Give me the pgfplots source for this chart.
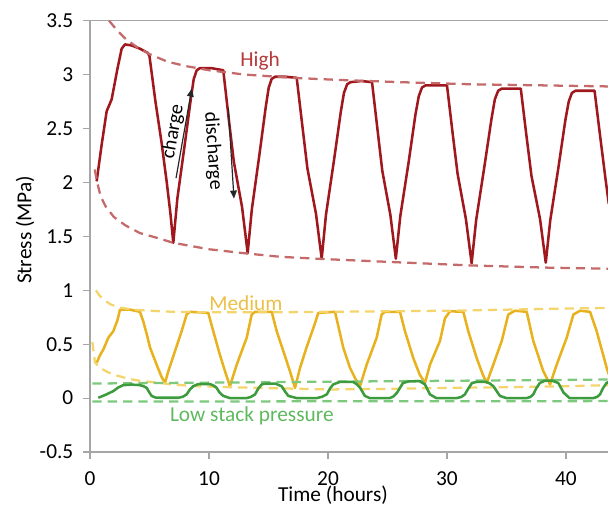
\documentclass[border=0pt]{standalone}
\usepackage{fontspec}
\setmainfont{Carlito}
\usepackage{pgfplots}
\pgfplotsset{compat=1.18}
\usetikzlibrary{arrows.meta}
\definecolor{axgray}{HTML}{A6A6A6}
\definecolor{hired}{HTML}{A0181E}
\definecolor{hidash}{HTML}{C46A6A}
\definecolor{hitext}{HTML}{B43A3C}
\definecolor{medgold}{HTML}{E8B21E}
\definecolor{meddash}{HTML}{F3D56C}
\definecolor{medtext}{HTML}{EBC046}
\definecolor{lowgreen}{HTML}{3C9B3C}
\definecolor{lowdash}{HTML}{7CC87C}
\definecolor{lowtext}{HTML}{5FB95F}
\tikzset{
  curve/.style={line width=1.9pt,line join=round},
  env/.style={line width=1.7pt,dash pattern=on 7pt off 4.5pt},
}
\begin{document}
\begin{tikzpicture}
\begin{axis}[
  scale only axis, width=388.5pt, height=323.5pt,
  xmin=0, xmax=43.53, ymin=-0.5, ymax=3.5,
  axis x line=box, axis y line=left,
  axis line style={draw=axgray, line width=0.8pt, -},
  xtick pos=bottom, ytick pos=left, tick align=outside,
  major tick length=5pt,
  tick style={draw=axgray, line width=0.8pt},
  xtick={0,10,20,30,40}, xticklabels={0,10,20,30,40},
  ytick={-0.5,0,0.5,1,1.5,2,2.5,3,3.5},
  yticklabels={-0.5,0,0.5,1,1.5,2,2.5,3,3.5},
  tick label style={font=\fontsize{16}{19}\selectfont},
  yticklabel style={xshift=-4pt},
  xticklabel style={yshift=-6pt},
]
% high stack pressure
\addplot[curve, hired] coordinates {
(0.56,2.01) (0.98,2.35) (1.4,2.66) (1.82,2.77) (2.3,3.05) (2.66,3.24) (2.94,3.28) (3.5,3.27) (4.2,3.24) (4.87,3.20)
(5.0,3.17) (5.5,2.75) (6.0,2.38) (6.44,2.01) (6.75,1.72) (7.0,1.44)
(7.34,1.85) (7.96,2.35) (8.48,2.78) (8.72,2.96) (8.97,3.04) (9.24,3.06) (10.2,3.06) (11.2,3.04)
(11.67,2.58) (12.09,2.19) (12.78,1.77) (13.25,1.345)
(13.6,1.75) (14.24,2.26) (14.77,2.70) (15.02,2.88) (15.27,2.96) (15.55,2.98) (16.4,2.98) (17.37,2.97)
(17.85,2.52) (18.27,2.13) (18.99,1.71) (19.47,1.293)
(19.83,1.70) (20.51,2.21) (21.07,2.65) (21.34,2.83) (21.61,2.91) (21.9,2.93) (22.8,2.94) (23.7,2.93)
(24.16,2.49) (24.56,2.11) (25.24,1.70) (25.7,1.293)
(26.08,1.69) (26.78,2.19) (27.35,2.63) (27.63,2.80) (27.9,2.88) (28.2,2.90) (29.1,2.90) (30.0,2.90)
(30.48,2.45) (30.89,2.08) (31.59,1.66) (32.07,1.25)
(32.45,1.65) (33.16,2.16) (33.74,2.59) (34.02,2.77) (34.3,2.85) (34.6,2.87) (35.4,2.87) (36.2,2.87)
(36.68,2.43) (37.1,2.06) (37.82,1.66) (38.3,1.256)
(38.68,1.65) (39.38,2.15) (39.95,2.58) (40.23,2.75) (40.5,2.83) (40.8,2.85) (41.6,2.85) (42.4,2.85)
(42.88,2.42) (43.3,2.05) (43.6,1.80)
};
\addplot[env, hidash] coordinates {
(1.6,3.5) (2.2,3.42) (3.0,3.33) (4.0,3.25) (5.0,3.19) (6.5,3.12) (8,3.08) (10,3.04) (13,3.00)
(17,2.97) (21,2.95) (26,2.93) (32,2.91) (38,2.90) (43.6,2.89)
};
\addplot[env, hidash] coordinates {
(0.4,2.12) (0.6,2.0) (0.9,1.87) (1.3,1.78) (2.0,1.68) (3.0,1.6) (4.2,1.53) (5.5,1.49) (7,1.44)
(10,1.38) (13.25,1.34) (16,1.31) (19.5,1.29) (25.7,1.26) (32,1.23) (38.3,1.21) (43.6,1.20)
};
% medium stack pressure
\addplot[curve, medgold] coordinates {
(0.56,0.327) (0.85,0.40) (1.12,0.45) (1.54,0.56) (1.96,0.62) (2.3,0.72) (2.52,0.82) (3.36,0.82) (4.2,0.80)
(4.48,0.71) (4.8,0.58) (5.04,0.47) (5.6,0.31) (6.0,0.20) (6.3,0.14)
(6.58,0.25) (7.14,0.435) (7.7,0.62) (8.12,0.775) (8.4,0.80) (9.94,0.79) (10.36,0.62) (10.92,0.40) (11.4,0.23) (11.76,0.11)
(12.33,0.31) (13.17,0.56) (13.59,0.775) (13.87,0.80) (15.27,0.80) (15.69,0.62) (16.25,0.435) (16.8,0.25) (17.23,0.095)
(17.65,0.28) (18.2,0.47) (18.77,0.65) (19.19,0.79) (20.59,0.80) (21.29,0.465) (21.85,0.28) (22.3,0.18) (22.69,0.11)
(23.25,0.31) (24.09,0.56) (24.51,0.775) (24.79,0.80) (26.05,0.80) (26.47,0.62) (27.17,0.37) (27.7,0.22) (28.15,0.14)
(28.57,0.31) (29.41,0.53) (29.83,0.74) (30.25,0.805) (31.37,0.80) (31.79,0.62) (32.5,0.37) (33.0,0.22) (33.34,0.14)
(33.89,0.31) (34.6,0.53) (35.15,0.775) (35.71,0.81) (36.7,0.80) (37.25,0.53) (38.09,0.25) (38.66,0.127)
(39.22,0.31) (40.06,0.56) (40.62,0.775) (41.18,0.81) (42.02,0.80) (42.58,0.62) (43.42,0.28) (43.6,0.22)
};
\addplot[env, meddash] coordinates {
(0.5,1.0) (0.8,0.95) (1.2,0.91) (1.7,0.87) (2.5,0.84) (3.6,0.82) (5,0.81) (7,0.80) (10,0.795)
(15,0.795) (20,0.80) (25,0.805) (30,0.81) (35,0.82) (40,0.83) (43.6,0.836)
};
\addplot[env, meddash] coordinates {
(0.2,0.52) (0.42,0.33) (0.84,0.28) (1.5,0.24) (2.24,0.21) (3.2,0.18) (4.2,0.16) (5.5,0.145) (7,0.125)
(9,0.11) (12,0.10) (16,0.09) (20,0.08) (25,0.085) (30,0.095) (35,0.10) (40,0.11) (43.6,0.12)
};
% low stack pressure
\addplot[env, lowdash] coordinates {(0.2,0.135) (43.6,0.172)};
\addplot[env, lowdash] coordinates {(0.2,-0.032) (43.6,-0.028)};
\addplot[curve, lowgreen] coordinates {
(0.7,0.003) (1.3,0.03) (1.96,0.065) (2.4,0.10) (2.8,0.12) (3.5,0.125) (4.2,0.12) (4.5,0.11) (4.76,0.095)
(5.0,0.05) (5.18,0.02) (5.5,0.005) (5.88,0.003) (7.42,0.003) (7.8,0.012) (8.12,0.034) (8.4,0.08) (8.68,0.11)
(9.1,0.13) (10.08,0.13) (10.4,0.115) (10.64,0.095) (10.9,0.05) (11.2,0.02) (11.76,0) (13.17,0) (13.5,0.01)
(13.87,0.034) (14.15,0.09) (14.43,0.127) (14.8,0.135) (15.55,0.135) (16.1,0.11) (16.4,0.06) (16.67,0.02)
(17.37,0) (19.05,0) (19.5,0.012) (19.9,0.034) (20.2,0.095) (20.45,0.127) (21.0,0.15) (22.1,0.15) (22.4,0.13)
(22.7,0.095) (23.1,0.02) (23.5,0) (25.2,0) (25.5,0.015) (25.8,0.05) (26.3,0.14) (26.8,0.155) (27.7,0.157)
(28.15,0.127) (28.57,0.034) (29.1,0) (30.8,0) (31.2,0.01) (31.5,0.034) (31.8,0.09) (32.1,0.14) (32.5,0.15)
(33.3,0.15) (33.6,0.135) (33.9,0.11) (34.2,0.06) (34.45,0.02) (35.0,0) (36.7,0) (37.0,0.01) (37.25,0.034)
(37.5,0.09) (37.8,0.14) (38.2,0.16) (38.8,0.163) (39.35,0.14) (39.6,0.09) (39.8,0.05) (40.3,0) (42.3,0)
(42.6,0.01) (42.86,0.034) (43.1,0.09) (43.4,0.14) (43.6,0.15)
};
% annotations
\node[font=\fontsize{16}{19}\selectfont, text=hitext] at (axis cs:14.3,3.13) {High};
\node[font=\fontsize{16}{19}\selectfont, text=medtext] at (axis cs:13.1,0.88) {Medium};
\node[font=\fontsize{16}{19}\selectfont, text=lowtext] at (axis cs:13.6,-0.167) {Low stack pressure};
\draw[black!85, line width=0.9pt, -{Triangle[length=6pt,width=5pt]}] (axis cs:7.23,2.04) -- (axis cs:8.55,2.87);
\node[font=\fontsize{15}{18}\selectfont, rotate=80, inner sep=0pt] at (axis cs:7.0,2.47) {charge};
\draw[black!85, line width=0.9pt, -{Triangle[length=6pt,width=5pt]}] (axis cs:11.62,2.69) -- (axis cs:12.1,1.85);
\node[font=\fontsize{15}{18}\selectfont, rotate=-86, inner sep=0pt] at (axis cs:10.34,2.29) {discharge};
\end{axis}
\node[font=\fontsize{16}{19}\selectfont, rotate=90] at (-48.75pt,166.6pt) {Stress (MPa)};
\node[font=\fontsize{16}{19}\selectfont] at (182.25pt,-32.25pt) {Time (hours)};
\pgfresetboundingbox
\path (-67.5pt,-41.25pt) rectangle (388.5pt,339pt);
\end{tikzpicture}
\end{document}
